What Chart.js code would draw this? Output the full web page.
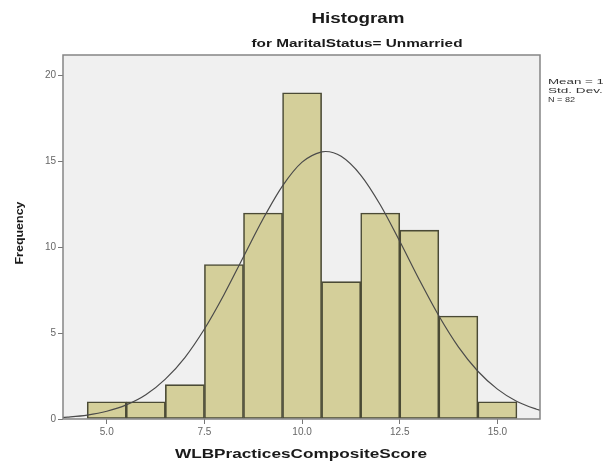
<!DOCTYPE html>
<html lang="en">
<head>
  <meta charset="UTF-8" />
  <title>Histogram - WLBPracticesCompositeScore</title>
  <script src="https://cdn.jsdelivr.net/npm/chart.js"></script>
  <style>
    body { margin: 0; background: #fff; font-family: "Liberation Sans", Arial, sans-serif; }
    #wrap { width: 603px; height: 464px; position: relative; }
  </style>
</head>
<body>
  <div id="wrap"><canvas id="histo"></canvas></div>

  <script>
    // bins (width 1) and counts
    const binCenters = [5, 6, 7, 8, 9, 10, 11, 12, 13, 14, 15];
    const frequencies = [1, 1, 2, 9, 12, 19, 8, 12, 11, 6, 1];

    // fitted normal curve
    const curveX = [3.88, 4, 4.5, 5, 5.5, 6, 6.5, 7, 7.5, 8, 8.5, 9, 9.5, 10, 10.5, 10.6, 11, 11.5, 12, 12.5, 13, 13.5, 14, 14.5, 15, 15.5, 16, 16.09];
    const curveY = [0.09, 0.11, 0.23, 0.45, 0.82, 1.41, 2.32, 3.58, 5.24, 7.24, 9.45, 11.65, 13.58, 14.96, 15.56, 15.58, 15.30, 14.21, 12.48, 10.35, 8.11, 6.01, 4.20, 2.78, 1.74, 1.02, 0.57, 0.51];

    const xTicks = [5, 7.5, 10, 12.5, 15];
    const yTicks = [0, 5, 10, 15, 20];

    const titleText = "Histogram";
    const subtitleText = "for MaritalStatus= Unmarried";
    const xTitle = "WLBPracticesCompositeScore";
    const yTitle = "Frequency";
    const statsLines = ["Mean = 10.61", "Std. Dev. = 2.095", "N = 82"];

    // SPSS output is stretched sideways, so text is fitted to a width
    function fitText(ctx, text, x, y, font, width, align, angle) {
      ctx.save();
      ctx.font = font;
      const w = ctx.measureText(text).width;
      ctx.translate(x, y);
      ctx.rotate(angle || 0);
      ctx.scale(width / w, 1);
      ctx.textAlign = align || "center";
      ctx.textBaseline = "middle";
      ctx.fillText(text, 0, 0);
      ctx.restore();
    }

    const spssFrame = {
      id: "spssFrame",
      beforeDatasetsDraw(chart) {
        const { ctx, chartArea: a } = chart;
        ctx.save();
        ctx.fillStyle = "#f0f0f0";
        ctx.fillRect(a.left, a.top, a.right - a.left, a.bottom - a.top);
        ctx.restore();
      },
      afterDraw(chart) {
        const { ctx, chartArea: a } = chart;
        ctx.save();
        ctx.strokeStyle = "#858585";
        ctx.lineWidth = 1.5;
        ctx.strokeRect(a.left, a.top, a.right - a.left, a.bottom - a.top);
        ctx.fillStyle = "#1a1a1a";
        fitText(ctx, titleText, 358, 19, "bold 14px 'Liberation Sans'", 93);
        fitText(ctx, subtitleText, 357, 44, "bold 10px 'Liberation Sans'", 211);
        fitText(ctx, xTitle, 301, 455, "bold 12px 'Liberation Sans'", 252);
        fitText(ctx, yTitle, 20, 233, "bold 11px 'Liberation Sans'", 63, "center", -Math.PI / 2);
        ctx.fillStyle = "#333";
        fitText(ctx, statsLines[0], 548, 82, "8px 'Liberation Sans'", 82, "left");
        fitText(ctx, statsLines[1], 548, 91, "8px 'Liberation Sans'", 104, "left");
        fitText(ctx, statsLines[2], 548, 100, "8px 'Liberation Sans'", 27, "left");
        ctx.restore();
      }
    };

    new Chart(document.getElementById("histo"), {
      type: "bar",
      data: {
        datasets: [
          {
            type: "line",
            data: curveX.map((x, i) => ({ x: x, y: curveY[i] })),
            borderColor: "#4a4a4a",
            borderWidth: 1.2,
            pointRadius: 0,
            cubicInterpolationMode: "monotone",
            fill: false,
            order: 0
          },
          {
            type: "bar",
            data: binCenters.map((x, i) => ({ x: x, y: frequencies[i] })),
            backgroundColor: "#d4cf9a",
            borderColor: "#4a4a35",
            borderWidth: 1.6,
            borderSkipped: false,
            barPercentage: 1,
            categoryPercentage: 1,
            order: 1
          }
        ]
      },
      options: {
        responsive: true,
        maintainAspectRatio: false,
        animation: false,
        layout: { padding: { top: 55, right: 63, left: 0, bottom: 0 } },
        plugins: { legend: { display: false }, tooltip: { enabled: false } },
        scales: {
          x: {
            type: "linear",
            min: 3.88,
            max: 16.09,
            offset: false,
            afterBuildTicks: s => { s.ticks = xTicks.map(v => ({ value: v })); },
            afterFit: s => { s.height = 45; },
            grid: { offset: false, drawOnChartArea: false, drawTicks: true, tickLength: 5, color: "#777" },
            border: { display: false },
            ticks: {
              color: "#666",
              font: { size: 10, family: "Liberation Sans" },
              padding: 2,
              maxRotation: 0,
              callback: v => v.toFixed(1)
            }
          },
          y: {
            min: 0,
            max: 21.2,
            afterBuildTicks: s => { s.ticks = yTicks.map(v => ({ value: v })); },
            afterFit: s => { s.width = 63; },
            grid: { drawOnChartArea: false, drawTicks: true, tickLength: 5, color: "#777" },
            border: { display: false },
            ticks: {
              color: "#666",
              font: { size: 10, family: "Liberation Sans" },
              padding: 2
            }
          }
        }
      },
      plugins: [spssFrame]
    });
  </script>
</body>
</html>
